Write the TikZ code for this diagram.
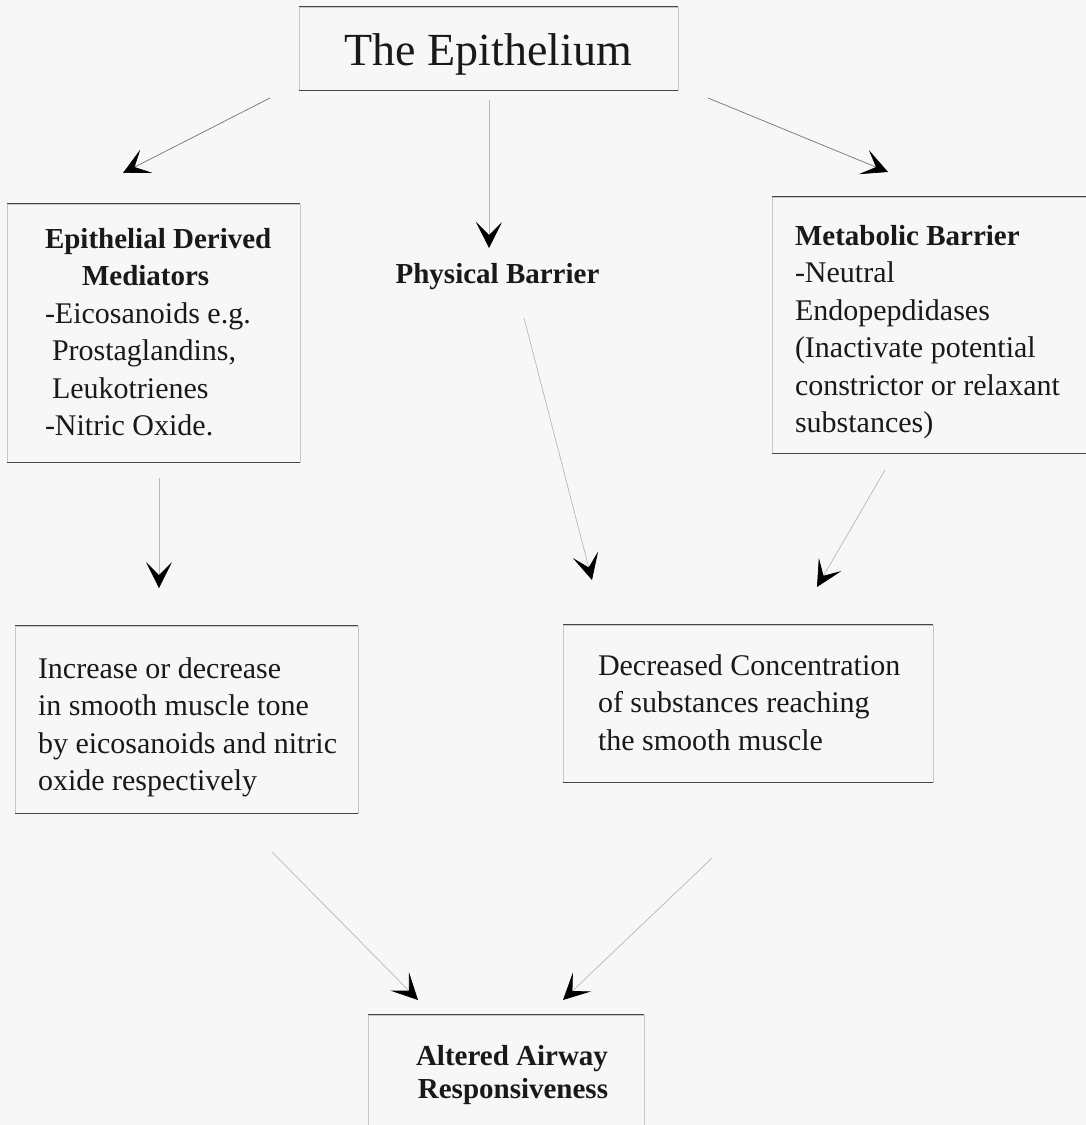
\documentclass[tikz,border=0pt]{standalone}
\usepackage{fontspec}
\setmainfont{Liberation Serif}
\usetikzlibrary{arrows.meta}
\newcommand\headtxt[1]{{\fontsize{29}{37.5}\selectfont\bfseries #1}}
\hfuzz=200pt
\begin{document}
\begin{tikzpicture}[x=1pt,y=-1pt,
  hedge/.style={draw=black!72, line width=1pt},
  box/.style={draw=black!22, line width=.8pt, rectangle, inner sep=0pt, align=flush left,
    font=\fontsize{30}{37.5}\selectfont, text=black!90,
    append after command={(\tikzlastnode.north west) edge[hedge] (\tikzlastnode.north east)
      (\tikzlastnode.south west) edge[hedge] (\tikzlastnode.south east)}},
  conn/.style={draw=black!55, line width=.7pt,
    -{Stealth[length=26pt,width=26pt,inset=13pt,black]}},
  faint/.style={conn, draw=black!28},
]
\useasboundingbox (0,0) rectangle (1086,1125);
\clip (0,0) rectangle (1086,1125);
\fill[black!3] (0,0) rectangle (1086,1125);

% boxes
\node[box, font=\fontsize{46}{50}\selectfont, minimum width=379pt, minimum height=83pt,
  text height=33pt, text depth=0pt] (epi) at (488.5,48.5) {The Epithelium};

\node[box, minimum width=293pt, minimum height=258pt, text width=217pt,
  text height=20pt, text depth=190pt] (edm) at (153.5,333)
  {\mbox{\headtxt{Epithelial Derived}}\\
   \mbox{\hspace*{37pt}\headtxt{Mediators}}\\
   \mbox{-Eicosanoids e.g.}\\
   \mbox{\hspace*{7pt}Prostaglandins,}\\
   \mbox{\hspace*{7pt}Leukotrienes}\\
   \mbox{-Nitric Oxide.}};

\node[font=\fontsize{29}{37.5}\selectfont\bfseries, text=black!90, anchor=base,
  inner sep=0pt] (phys) at (497.5,283) {Physical Barrier};

\node[box, minimum width=328pt, minimum height=256pt, text width=282pt,
  text height=20pt, text depth=180pt] (met) at (936,325)
  {\mbox{\headtxt{Metabolic Barrier}}\\
   \mbox{-Neutral}\\
   \mbox{Endopepdidases}\\
   \mbox{(Inactivate potential}\\
   \mbox{constrictor or relaxant}\\
   \mbox{substances)}};

\node[box, minimum width=343pt, minimum height=187pt, text width=297pt,
  text height=20pt, text depth=103pt] (inc) at (186.5,719.5)
  {\mbox{Increase or decrease}\\
   \mbox{in smooth muscle tone}\\
   \mbox{by eicosanoids and nitric}\\
   \mbox{oxide respectively}};

\node[box, minimum width=370pt, minimum height=157pt, text width=300pt,
  text height=20pt, text depth=77pt] (dec) at (748,703.5)
  {\mbox{Decreased Concentration}\\
   \mbox{of substances reaching}\\
   \mbox{the smooth muscle}};

\node[box, font=\fontsize{29}{33}\selectfont\bfseries, align=flush center,
  minimum width=276pt, minimum height=130pt, text width=220pt,
  text height=20pt, text depth=50pt] (alt) at (506,1080)
  {\mbox{\hspace*{12pt}Altered Airway}\\ \mbox{\hspace*{14pt}Responsiveness}};

% connector end points
\coordinate (a1s) at (270,98);   \coordinate (a1e) at (123,173);
\coordinate (a2s) at (489,100);  \coordinate (a2e) at (489,248);
\coordinate (a3s) at (708,98);   \coordinate (a3e) at (888,172);
\coordinate (a4s) at (159,478);  \coordinate (a4e) at (159,588);
\coordinate (a5s) at (524,318);  \coordinate (a5e) at (592,580);
\coordinate (a6s) at (885,470);  \coordinate (a6e) at (817,587);
\coordinate (a7s) at (272,852);  \coordinate (a7e) at (418,1000);
\coordinate (a8s) at (712,858);  \coordinate (a8e) at (563,1000);

\draw[conn] (a1s) -- (a1e);
\draw[faint] (a2s) -- (a2e);
\draw[conn] (a3s) -- (a3e);
\draw[faint] (a4s) -- (a4e);
\draw[faint] (a5s) -- (a5e);
\draw[faint] (a6s) -- (a6e);
\draw[faint] (a7s) -- (a7e);
\draw[faint] (a8s) -- (a8e);
\end{tikzpicture}
\end{document}
